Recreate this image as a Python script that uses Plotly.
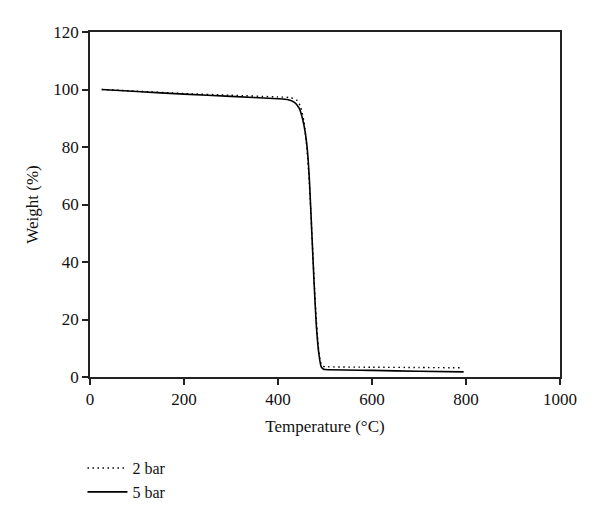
import plotly.graph_objects as go

# 2 bar series
t_2bar = [25, 100, 200, 300, 400, 425, 440, 448, 455, 460, 465, 470, 475, 480, 485, 490, 495, 500, 600, 700, 793]
w_2bar = [100, 99.4, 98.6, 98.0, 97.4, 97.2, 96.3, 94, 89, 82, 72, 57, 40, 24, 12, 5.5, 3.8, 3.6, 3.4, 3.3, 3.2]

# 5 bar series
t_5bar = [25, 100, 200, 300, 400, 420, 435, 445, 452, 458, 463, 467, 472, 477, 482, 487, 492, 497, 500, 600, 700, 795]
w_5bar = [100, 99.3, 98.4, 97.6, 96.8, 96.5, 95.5, 93.5, 90, 85, 78, 68, 50, 32, 17, 8, 3.5, 2.7, 2.6, 2.3, 2.0, 1.8]

x_ticks = [0, 200, 400, 600, 800, 1000]
y_ticks = [0, 20, 40, 60, 80, 100, 120]

FONT = "Liberation Serif"

fig = go.Figure()
fig.add_trace(go.Scatter(x=t_2bar, y=w_2bar, mode="lines", name="2 bar",
                         line=dict(color="black", width=1.4, dash="1.5px,3.5px", shape="spline", smoothing=0.6)))
fig.add_trace(go.Scatter(x=t_5bar, y=w_5bar, mode="lines", name="5 bar",
                         line=dict(color="black", width=1.6, shape="spline", smoothing=0.6)))

axis_common = dict(showline=True, linecolor="#222", linewidth=1.5, mirror=True,
                   ticks="outside", ticklen=6, tickcolor="#222", tickwidth=1.5,
                   showgrid=False, zeroline=False,
                   tickfont=dict(family=FONT, size=17, color="#111"))

fig.update_layout(
    width=600, height=520,
    margin=dict(l=82, r=48, t=24, b=151),
    paper_bgcolor="white", plot_bgcolor="white",
    font=dict(family=FONT, size=17, color="#111"),
    xaxis=dict(range=[0, 1000], tickvals=x_ticks,
               title=dict(text="Temperature (°C)", font=dict(family=FONT, size=17), standoff=12),
               **axis_common),
    yaxis=dict(range=[0, 120], tickvals=y_ticks,
               title=dict(text="Weight (%)", font=dict(family=FONT, size=17), standoff=10),
               **axis_common),
    legend=dict(x=-0.016, y=-0.215, xanchor="left", yanchor="top",
                font=dict(family=FONT, size=16, color="#111"),
                bgcolor="rgba(0,0,0,0)", tracegroupgap=0, itemwidth=40),
    showlegend=True,
)

fig.write_html("out.html")
